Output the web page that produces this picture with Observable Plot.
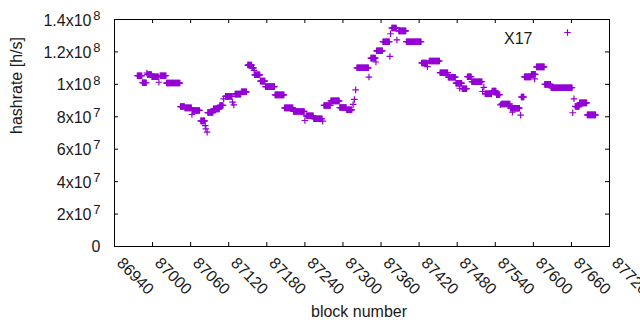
<!DOCTYPE html>
<html><head><meta charset="utf-8">
<script src="https://cdn.jsdelivr.net/npm/d3@7"></script>
<script src="https://cdn.jsdelivr.net/npm/@observablehq/plot@0.6"></script>
<style>body{margin:0;background:#fff;}</style>
</head><body><div id="chart"></div>
<script>
// Runs of consecutive blocks with the same hashrate (value in units of 1e6 h/s)
const runStart = [86976,86984,86991,86992,86999,87010,87012,87022,87044,87051,87062,87063,87076,87083,87084,87086,87087,87096,87106,87112,87115,87126,87128,87130,87140,87150,87157,87160,87161,87170,87178,87193,87208,87222,87240,87242,87254,87268,87270,87281,87295,87306,87316,87318,87320,87322,87341,87344,87352,87353,87363,87374,87375,87377,87385,87388,87400,87424,87433,87436,87453,87466,87478,87484,87488,87496,87503,87520,87522,87524,87535,87542,87548,87550,87564,87567,87580,87581,87586,87597,87602,87605,87618,87628,87662,87664,87666,87667,87673,87685];
const runEnd   = [86983,86990,86991,86998,87009,87010,87021,87043,87050,87061,87062,87074,87082,87083,87084,87086,87095,87105,87111,87112,87125,87126,87128,87139,87148,87156,87159,87160,87169,87177,87192,87207,87221,87239,87240,87253,87267,87268,87280,87294,87305,87314,87316,87318,87320,87340,87341,87351,87352,87362,87373,87374,87375,87384,87385,87399,87423,87432,87433,87452,87465,87477,87487,87484,87495,87502,87519,87520,87522,87534,87541,87547,87548,87563,87578,87567,87580,87585,87596,87603,87602,87617,87627,87661,87662,87664,87666,87672,87684,87698];
const runValue = [105.3,101.0,107.0,106.1,104.7,101.3,105.3,100.8,86.3,85.5,81.4,83.9,77.5,74.6,72.6,70.5,82.6,84.9,87.0,91.1,92.6,89.0,87.3,94.0,95.4,111.9,110.2,108.6,105.9,102.0,98.6,93.5,85.5,83.3,77.7,80.6,78.8,77.3,87.0,89.8,85.7,84.3,87.6,90.7,96.6,110.2,104.5,116.2,113.8,120.7,126.3,117.2,131.2,134.8,127.4,133.0,126.3,113.2,110.9,114.4,107.2,104.4,100.7,97.6,97.3,104.7,101.6,95.6,98.2,94.2,95.8,93.6,87.4,87.9,85.3,82.8,81.0,92.2,104.6,106.2,103.4,110.8,100.0,97.9,82.5,91.1,86.5,86.3,88.6,81.2];

const xTicks = [86940,87000,87060,87120,87180,87240,87300,87360,87420,87480,87540,87600,87660,87720];
const yTicks = [0,2e7,4e7,6e7,8e7,1e8,1.2e8,1.4e8];
const yTickMantissa = ["0","2x10","4x10","6x10","8x10","1x10","1.2x10","1.4x10"];
const yTickExponent = ["","7","7","7","7","8","8","8"];
const seriesName = "X17";
const xLabel = "block number";
const yLabel = "hashrate [h/s]";
const color = "#9400d3";

const points = [];
runStart.forEach((s, i) => {
  for (let b = s; b <= runEnd[i]; b++) points.push({block: b, hashrate: runValue[i] * 1e6});
});
const yRows = yTicks.map((v, i) => ({v, m: yTickMantissa[i], e: yTickExponent[i]}));

const plus = {draw(ctx) { const h = 3.3; ctx.moveTo(-h, 0); ctx.lineTo(h, 0); ctx.moveTo(0, -h); ctx.lineTo(0, h); }};
const ink = "#1a1a1a";

const chart = Plot.plot({
  width: 640, height: 330,
  marginLeft: 114, marginRight: 31, marginTop: 19, marginBottom: 84,
  x: {domain: [86940, 87720], axis: null},
  y: {domain: [0, 1.4e8], axis: null},
  style: {fontFamily: "'Liberation Sans', Arial, sans-serif", fontSize: "16px", background: "#fff", color: "#000"},
  marks: [
    Plot.dot(points, {x: "block", y: "hashrate", symbol: plus, stroke: color, fill: "none", strokeWidth: 1.2}),
    Plot.frame({stroke: "#000", strokeWidth: 1}),
    Plot.tickX(xTicks, {x: d => d, insetTop: 223, stroke: "#000"}),
    Plot.tickX(xTicks, {x: d => d, insetBottom: 223, stroke: "#000"}),
    Plot.tickY(yTicks, {y: d => d, insetRight: 491, stroke: "#000"}),
    Plot.tickY(yTicks, {y: d => d, insetLeft: 491, stroke: "#000"}),
    Plot.text(xTicks, {x: d => d, frameAnchor: "bottom", text: d => String(d), rotate: 45, textAnchor: "start", lineAnchor: "middle", dx: 5, dy: 14, fontSize: 16, fill: ink}),
    Plot.text(yRows.filter(r => r.e), {y: "v", frameAnchor: "left", text: "m", textAnchor: "end", dx: -23, dy: 1, fontSize: 16, fill: ink}),
    Plot.text(yRows.filter(r => !r.e), {y: "v", frameAnchor: "left", text: "m", textAnchor: "end", dx: -14, fontSize: 16, fill: ink}),
    Plot.text(yRows.filter(r => r.e), {y: "v", frameAnchor: "left", text: "e", textAnchor: "end", dx: -14, dy: -4, fontSize: 13, fill: ink}),
    Plot.text([yLabel], {frameAnchor: "left", text: d => d, rotate: -90, dx: -98, dy: 1, fontSize: 16, fill: ink}),
    Plot.text([xLabel], {frameAnchor: "bottom", text: d => d, dx: -3, dy: 70, fontSize: 16, fill: ink}),
    Plot.text([seriesName], {frameAnchor: "top-right", text: d => d, textAnchor: "end", dx: -77, dy: 13, fontSize: 16, fill: ink}),
    Plot.dot([0], {frameAnchor: "top-right", dx: -42, dy: 13, symbol: plus, stroke: color, fill: "none", strokeWidth: 1.2})
  ]
});
document.getElementById("chart").appendChild(chart);
</script>
</body></html>
